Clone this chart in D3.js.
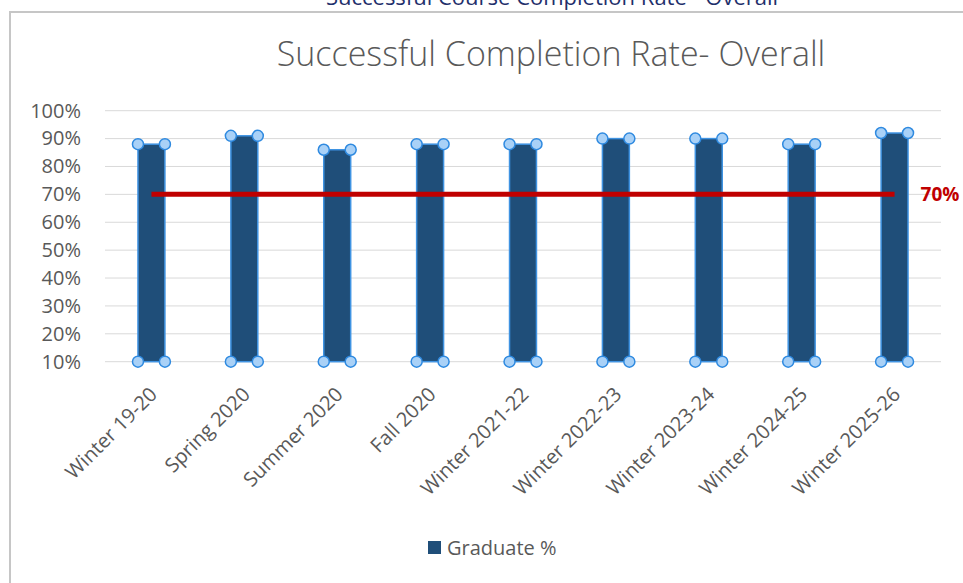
<!DOCTYPE html>
<html>
<head>
<meta charset="utf-8">
<script src="https://cdn.jsdelivr.net/npm/d3@7"></script>
<style>
  body { margin: 0; background: #fff; }
  svg { display: block; }
</style>
</head>
<body>
<svg id="chart"></svg>
<script>
const categories = ["Winter 19-20", "Spring 2020", "Summer 2020", "Fall 2020", "Winter 2021-22",
  "Winter 2022-23", "Winter 2023-24", "Winter 2024-25", "Winter 2025-26"];
const graduatePct = [0.88, 0.91, 0.86, 0.88, 0.88, 0.90, 0.90, 0.88, 0.92];
const targetPct = [0.70, 0.70, 0.70, 0.70, 0.70, 0.70, 0.70, 0.70, 0.70];
const yTicks = [0.1, 0.2, 0.3, 0.4, 0.5, 0.6, 0.7, 0.8, 0.9, 1.0];

const W = 963, H = 583;
const svg = d3.select("#chart").attr("width", W).attr("height", H);

// header text, partly above the page top as in the original screenshot
svg.append("text")
  .attr("x", 552).attr("y", 5)
  .attr("text-anchor", "middle")
  .style("font-family", "Open Sans")
  .style("font-size", "22px")
  .attr("fill", "#1f2f6b")
  .text("Successful Course Completion Rate - Overall");

// chart area border
svg.append("rect")
  .attr("x", 10).attr("y", 12)
  .attr("width", W).attr("height", H)
  .attr("fill", "none")
  .attr("stroke", "#c6c6c6")
  .attr("stroke-width", 2);

svg.append("text")
  .attr("x", 551).attr("y", 66)
  .attr("text-anchor", "middle")
  .style("font-family", "Open Sans")
  .style("font-weight", 300)
  .style("font-size", "34px")
  .attr("fill", "#595959")
  .text("Successful Completion Rate- Overall");

const x = d3.scaleBand()
  .domain(categories)
  .range([105, 941])
  .paddingInner(0.71)
  .paddingOuter(0.355);

const y = d3.scaleLinear()
  .domain([0.1, 1.0])
  .range([361.7, 110.7]);

// gridlines
svg.append("g")
  .selectAll("line")
  .data(yTicks)
  .enter().append("line")
  .attr("x1", 105).attr("x2", 941)
  .attr("y1", d => y(d)).attr("y2", d => y(d))
  .attr("stroke", "#d9d9d9")
  .attr("stroke-width", 1);

// y axis labels
const yAxis = svg.append("g")
  .attr("transform", "translate(87,0)")
  .call(d3.axisLeft(y).tickValues(yTicks).tickFormat(d3.format(".0%")).tickSize(0).tickPadding(6));
yAxis.select(".domain").remove();
yAxis.selectAll("text")
  .style("font-family", "Open Sans")
  .style("font-size", "20px")
  .attr("fill", "#595959");

// x axis labels
const xAxis = svg.append("g")
  .attr("transform", `translate(0,${y(0.1)})`)
  .call(d3.axisBottom(x).tickSize(0).tickPadding(0));
xAxis.select(".domain").remove();
xAxis.selectAll("text")
  .style("font-family", "Open Sans")
  .style("font-size", "20px")
  .attr("fill", "#595959")
  .attr("transform", "translate(2,29) rotate(-45)")
  .attr("dy", "0.35em")
  .style("text-anchor", "end");

// bars
const bars = svg.append("g");
bars.selectAll("rect")
  .data(categories)
  .enter().append("rect")
  .attr("x", d => x(d))
  .attr("width", x.bandwidth())
  .attr("y", (d, i) => y(graduatePct[i]))
  .attr("height", (d, i) => y(0.1) - y(graduatePct[i]))
  .attr("fill", "#1f4e79")
  .attr("stroke", "#3f93e2")
  .attr("stroke-width", 1.5);

// target line
const line = d3.line()
  .x((d, i) => x(categories[i]) + x.bandwidth() / 2)
  .y(d => y(d));
svg.append("path")
  .datum(targetPct)
  .attr("d", line)
  .attr("fill", "none")
  .attr("stroke", "#c00000")
  .attr("stroke-width", 5);

// selection handles at bar corners
const handles = [];
categories.forEach((c, i) => {
  [x(c), x(c) + x.bandwidth()].forEach(hx => {
    handles.push([hx, y(graduatePct[i])]);
    handles.push([hx, y(0.1)]);
  });
});
svg.append("g")
  .selectAll("circle")
  .data(handles)
  .enter().append("circle")
  .attr("cx", d => d[0])
  .attr("cy", d => d[1])
  .attr("r", 5.5)
  .attr("fill", "#a9d1f7")
  .attr("stroke", "#2f8ae0")
  .attr("stroke-width", 1.5);

// target label
const last = categories.length - 1;
svg.append("text")
  .attr("x", x(categories[last]) + x.bandwidth() / 2 + 26)
  .attr("y", y(targetPct[last]))
  .attr("dy", "0.35em")
  .style("font-family", "Open Sans")
  .style("font-weight", 700)
  .style("font-size", "19px")
  .attr("fill", "#c00000")
  .text("70%");

// legend
const legend = svg.append("g").attr("transform", "translate(428,541)");
legend.append("rect")
  .attr("width", 13).attr("height", 13)
  .attr("fill", "#1f4e79");
legend.append("text")
  .attr("x", 19).attr("y", 7)
  .attr("dy", "0.35em")
  .style("font-family", "Open Sans")
  .style("font-size", "20px")
  .attr("fill", "#595959")
  .text("Graduate %");
</script>
</body>
</html>
